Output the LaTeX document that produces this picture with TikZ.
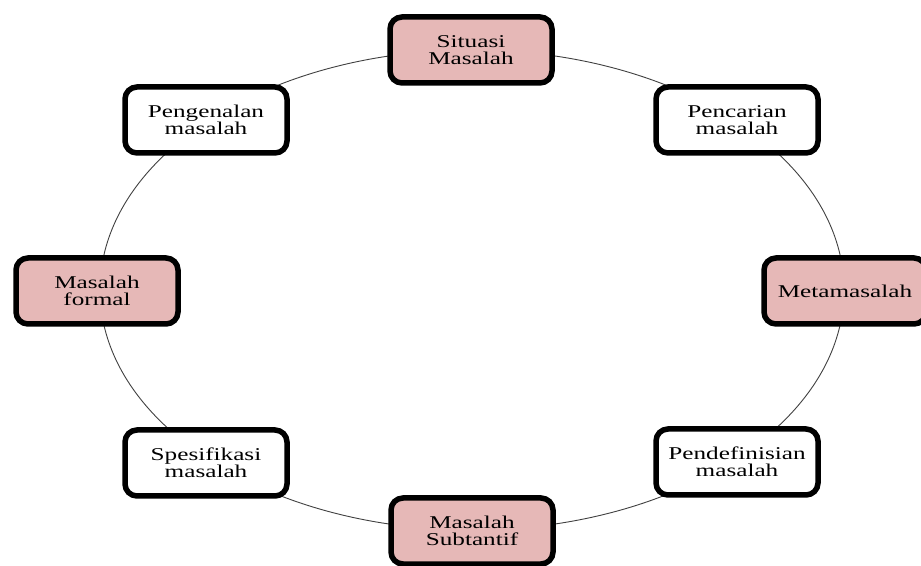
\documentclass[tikz,border=0pt]{standalone}
\usepackage{fontspec}
\setmainfont[FakeStretch=1.4]{Liberation Serif}
\usepackage{xcolor}
\usepackage{tikz}
\usetikzlibrary{positioning}
\definecolor{boxpink}{HTML}{E6B8B7}
\tikzset{box/.style={draw, line width=5.5pt, rounded corners=12pt, fill=white, minimum width=162pt, minimum height=66pt, align=center, inner sep=2pt, font=\fontsize{18}{16.5}\selectfont}}
\tikzset{pinkbox/.style={box, fill=boxpink}}

\begin{document}
\begin{tikzpicture}[x=1pt, y=1pt]
\useasboundingbox (0,0) rectangle (921,565);
\coordinate (centre) at (472,275);

\draw[line width=0.9pt, black!75] (centre) ellipse [x radius=372, y radius=240];

\node[pinkbox] (situasi) at (471,515) {Situasi\\Masalah};
\node[box] (pencarian) at (737,445) {Pencarian\\masalah};
\node[pinkbox] (meta) at (845,274) {Metamasalah};
\node[box] (definisi) at (737,103) {Pendefinisian\\masalah};
\node[pinkbox] (subtantif) at (472,34) {Masalah\\Subtantif};
\node[box] (spesifikasi) at (206,102) {Spesifikasi\\masalah};
\node[pinkbox] (formal) at (97,274) {Masalah\\formal};
\node[box] (pengenalan) at (206,445) {Pengenalan\\masalah};
\end{tikzpicture}
\end{document}
